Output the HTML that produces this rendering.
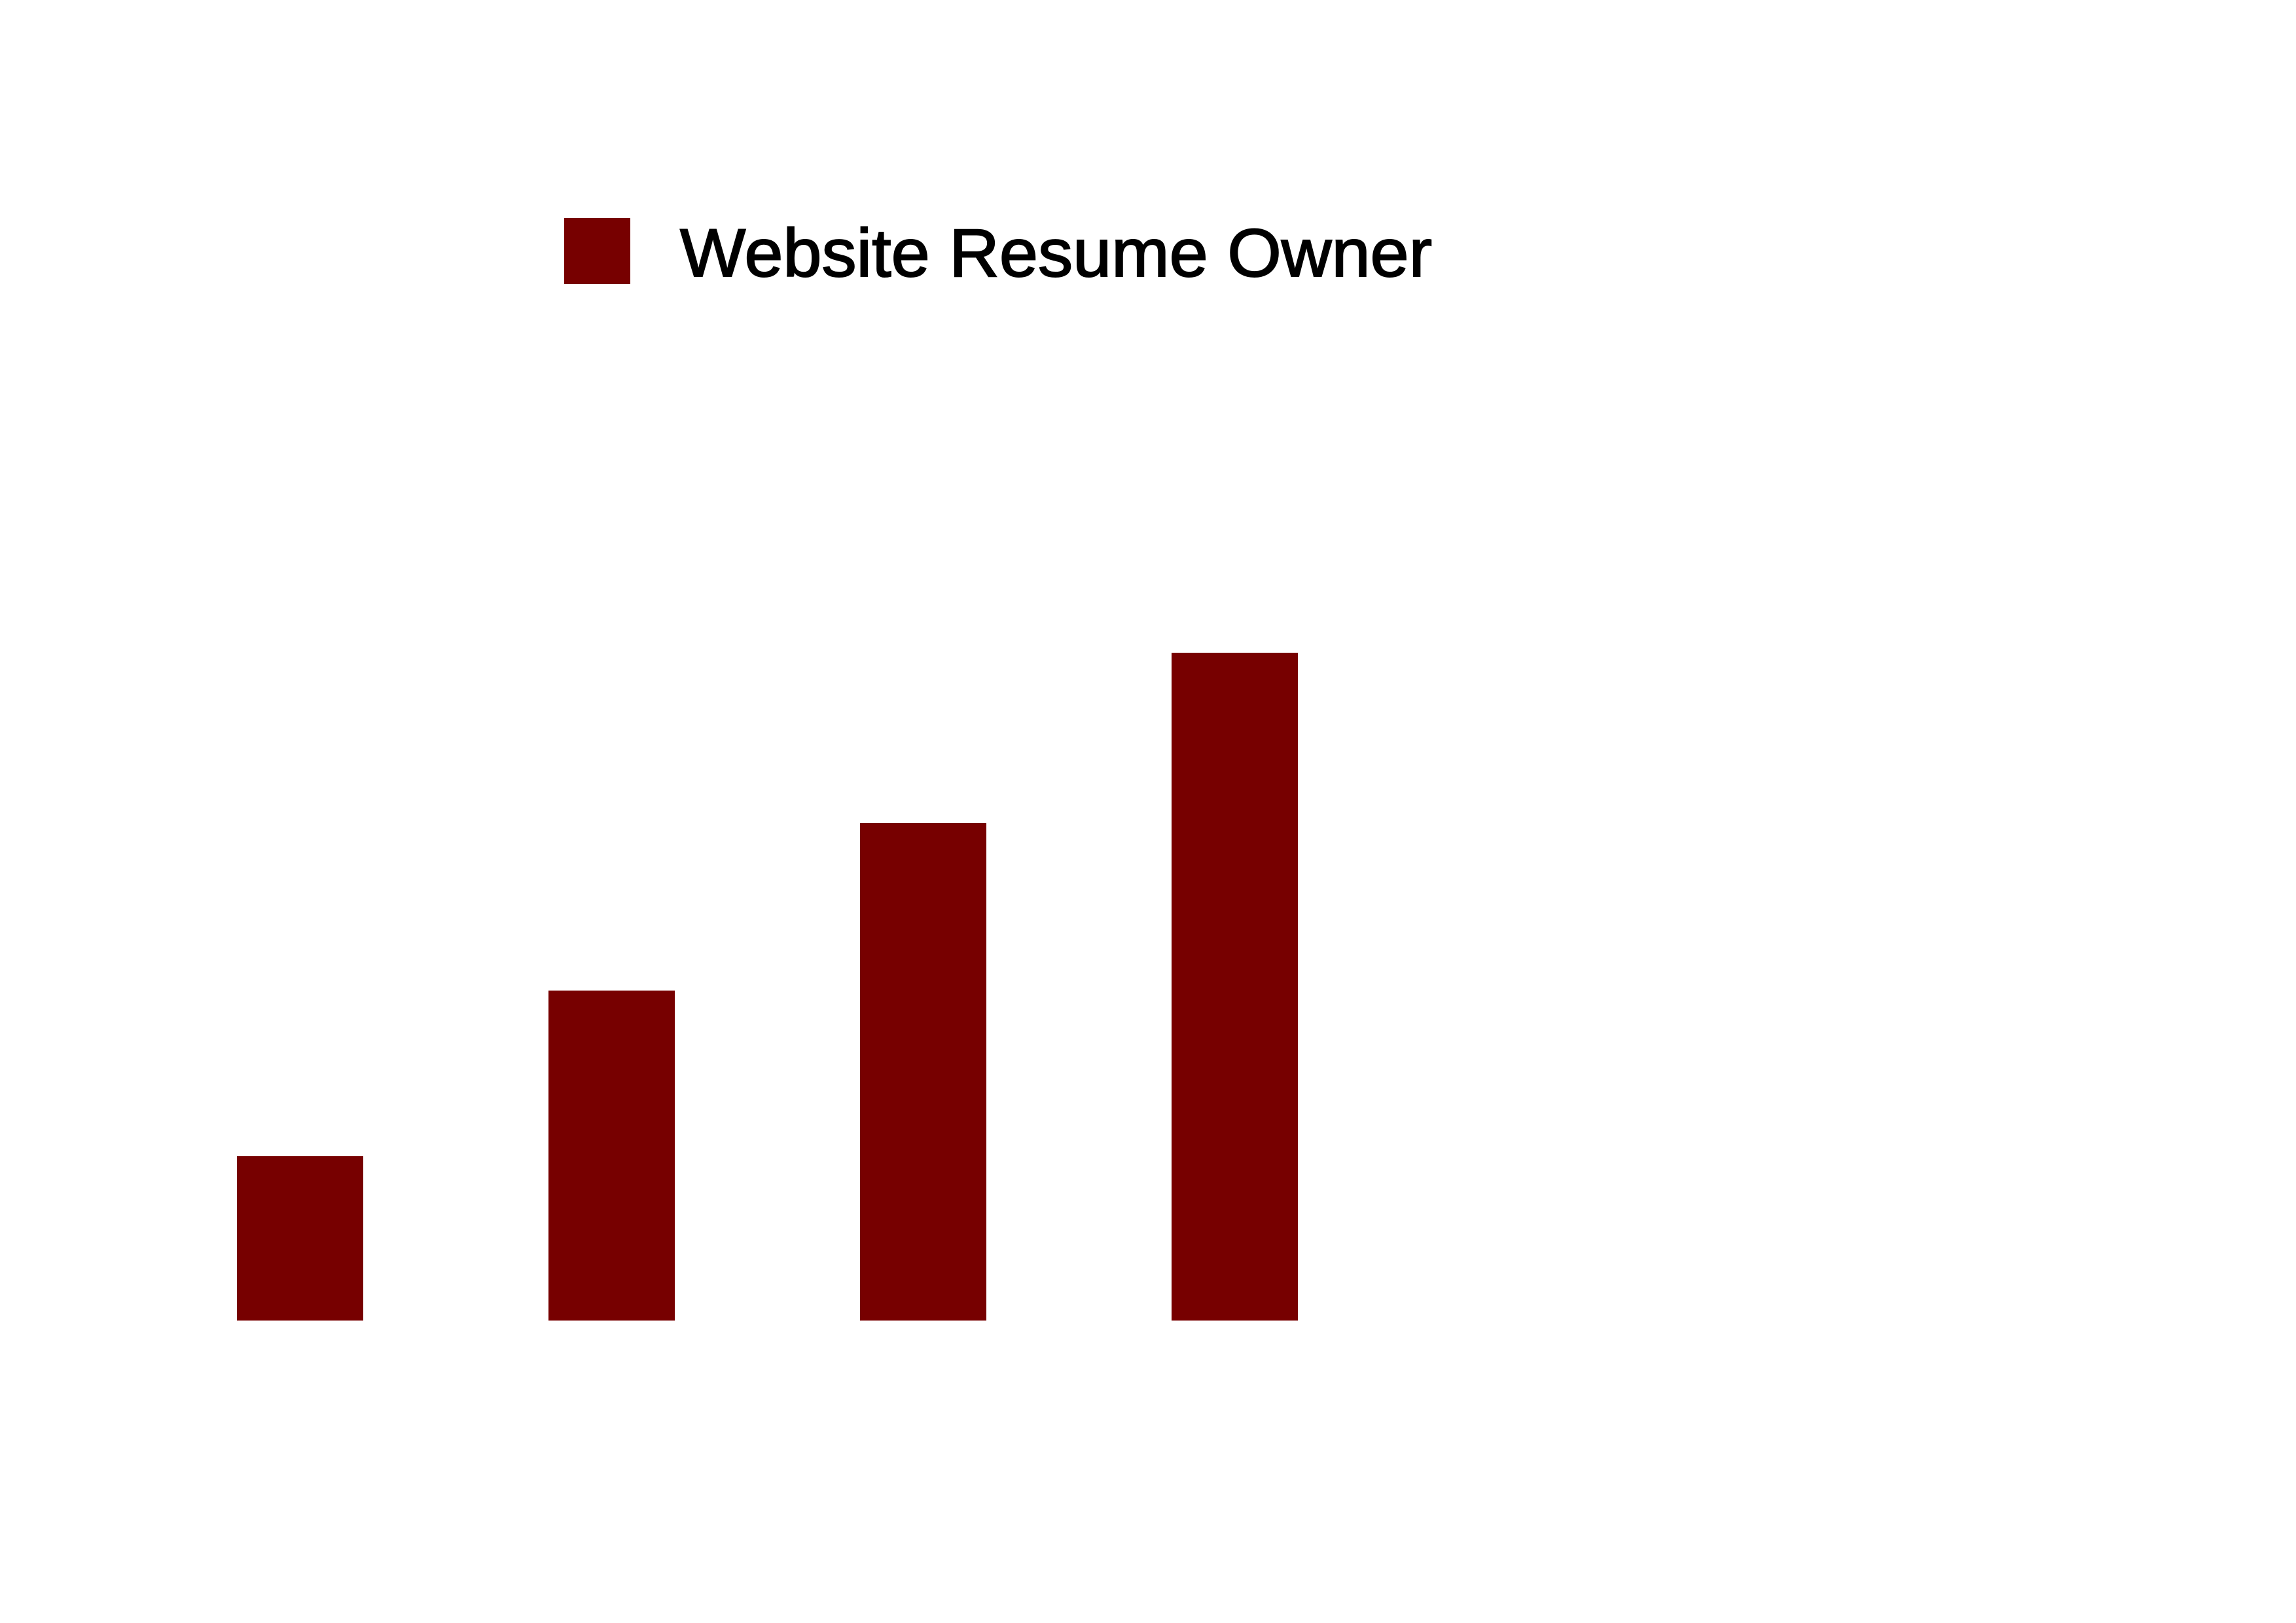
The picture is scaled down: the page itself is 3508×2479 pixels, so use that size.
<!DOCTYPE html>
<html>
<head>
<meta charset="utf-8">
<style>
  html, body { margin: 0; padding: 0; background: #fff; }
  svg { display: block; }
</style>
</head>
<body>
<svg id="chart" width="3508" height="2479" viewBox="0 0 3508 2479" xmlns="http://www.w3.org/2000/svg">
  <rect x="0" y="0" width="3508" height="2479" fill="#ffffff"></rect>
  <g>
    <rect x="862" y="333" width="101" height="101" fill="#770000"></rect>
    <text x="1039" y="422" font-family="Liberation Sans, Arial, sans-serif" font-size="104" textLength="1149" lengthAdjust="spacingAndGlyphs" fill="#000" stroke="#000" stroke-width="2">Website Resume Owner</text>
  </g>
  <g id="bars"></g>
</svg>
<script>
const categories = ["c1", "c2", "c3", "c4"];
const values = [2.51, 5.04, 7.60, 10.20];

const baseY = 2017;
const pxPerUnit = 100;
const firstX = 362;
const step = 476;
const barW = 193;

function yScale(v) { return baseY - v * pxPerUnit; }
function xScale(i) { return firstX + i * step; }

const g = document.getElementById('bars');
categories.forEach(function (c, i) {
  const r = document.createElementNS('http://www.w3.org/2000/svg', 'rect');
  const y = yScale(values[i]);
  r.setAttribute('x', xScale(i));
  r.setAttribute('y', y);
  r.setAttribute('width', barW);
  r.setAttribute('height', baseY - y);
  r.setAttribute('fill', '#770000');
  
  
  g.appendChild(r);
});
</script>
</body>
</html>
